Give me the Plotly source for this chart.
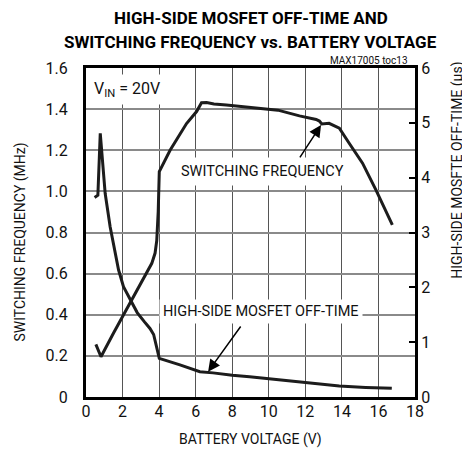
import plotly.graph_objects as go

# Switching frequency (MHz) vs battery voltage (V)
freq_v = [0.54, 0.82, 1.5, 2.0, 2.41, 3.0, 3.6, 3.78, 3.87, 3.95, 4.01, 4.6, 5.0, 5.5, 6.05,
          6.32, 6.6, 7.0, 7.68, 8.5, 9.5, 10.5, 11.68, 12.59, 12.77, 12.9, 13.3, 13.86,
          14.4, 15.13, 15.86, 16.76]
freq_mhz = [0.256, 0.196, 0.31, 0.39, 0.46, 0.555, 0.65, 0.70, 0.76, 0.9, 1.096, 1.20, 1.26,
            1.33, 1.388, 1.431, 1.432, 1.425, 1.42, 1.412, 1.404, 1.395, 1.367, 1.35, 1.342,
            1.328, 1.331, 1.307, 1.234, 1.137, 1.007, 0.837]

# High-side MOSFET off-time (us) vs battery voltage (V)
off_v = [0.47, 0.65, 0.78, 0.9, 1.05, 1.32, 1.69, 1.78, 2.05, 2.41, 2.8, 3.2, 3.5, 3.7, 3.82,
         3.9, 4.01, 5.14, 6.23, 6.95, 8.0, 8.95, 9.5, 10.77, 12.59, 13.86, 15.3, 16.73]
off_us = [3.64, 3.68, 4.81, 4.32, 3.71, 3.105, 2.50, 2.32, 2.01, 1.77, 1.54, 1.37, 1.25, 1.14,
          0.975, 0.825, 0.705, 0.585, 0.46, 0.44, 0.395, 0.37, 0.35, 0.31, 0.25, 0.2, 0.175, 0.16]

x_ticks = [0, 2, 4, 6, 8, 10, 12, 14, 16, 18]
y_ticks = [0, 0.2, 0.4, 0.6, 0.8, 1.0, 1.2, 1.4, 1.6]
y_tick_text = ["0", "0.2", "0.4", "0.6", "0.8", "1.0", "1.2", "1.4", "1.6"]
y2_ticks = [0, 1, 2, 3, 4, 5, 6]

title_lines = ["HIGH-SIDE MOSFET OFF-TIME AND", "SWITCHING FREQUENCY vs. BATTERY VOLTAGE"]

FONT = "Roboto, Liberation Sans, sans-serif"
LINE = "#1c1c1c"

fig = go.Figure()
fig.add_trace(go.Scatter(x=freq_v, y=freq_mhz, mode="lines", yaxis="y",
                         line=dict(color=LINE, width=3), showlegend=False))
fig.add_trace(go.Scatter(x=off_v, y=off_us, mode="lines", yaxis="y2",
                         line=dict(color=LINE, width=3), showlegend=False))

fig.update_layout(
    width=470, height=459,
    margin=dict(l=78, r=63, t=60, b=70),
    paper_bgcolor="white", plot_bgcolor="white",
    font=dict(family=FONT, size=16, color="#111"),
    xaxis=dict(range=[0, 18], tickvals=x_ticks, showgrid=True, gridcolor="#555", gridwidth=1,
               showline=True, linecolor="black", linewidth=3, mirror=True, zeroline=False,
               ticks="", ticklabelstandoff=-2, tickfont=dict(size=16)),
    yaxis=dict(range=[0, 1.6], tickvals=y_ticks, ticktext=y_tick_text, showgrid=True,
               gridcolor="#8a8a8a", gridwidth=1.5, showline=True, linecolor="black",
               linewidth=3, mirror=True, zeroline=False, ticks="", ticklabelstandoff=12,
               tickfont=dict(size=16)),
    yaxis2=dict(range=[0, 6], tickvals=y2_ticks, overlaying="y", side="right", showgrid=False,
                showline=True, linecolor="black", linewidth=3, zeroline=False,
                ticks="inside", ticklen=6, tickwidth=1.5, tickcolor="black",
                tickfont=dict(size=16)),
)

annotations = [
    dict(text="<b>%s</b>" % title_lines[0], xref="paper", yref="paper", x=0.5, y=1.152,
         xanchor="center", yanchor="middle", showarrow=False,
         font=dict(size=17, color="#000")),
    dict(text="<b>%s</b>" % title_lines[1], xref="paper", yref="paper", x=0.5, y=1.079,
         xanchor="center", yanchor="middle", showarrow=False,
         font=dict(size=17, color="#000")),
    dict(text="BATTERY VOLTAGE (V)", xref="paper", yref="paper", x=0.5, y=-0.128,
         xanchor="center", yanchor="middle", showarrow=False, font=dict(size=14)),
    dict(text="SWITCHING FREQUENCY (MHz)", xref="paper", yref="paper", x=-0.2, y=0.47,
         xanchor="center", yanchor="middle", textangle=-90, showarrow=False, font=dict(size=14)),
    dict(text="HIGH-SIDE MOSFTE OFF-TIME (µs)", xref="paper", yref="paper", x=1.13, y=0.69,
         xanchor="center", yanchor="middle", textangle=-90, showarrow=False, font=dict(size=14)),
    dict(text="MAX17005 toc13", xref="paper", yref="paper", x=0.985, y=1.024,
         xanchor="right", yanchor="middle", showarrow=False, font=dict(size=10)),
    dict(text="V<sub>IN</sub> = 20V", xref="paper", yref="paper", x=0.01, y=0.935,
         xanchor="left", yanchor="middle", showarrow=False, bgcolor="white", borderpad=4,
         font=dict(size=16)),
    dict(text="SWITCHING FREQUENCY", x=9.63, y=1.097, xref="x", yref="y",
         xanchor="center", yanchor="middle", showarrow=False, bgcolor="white", borderpad=5,
         font=dict(size=14.5)),
    dict(text="HIGH-SIDE MOSFET OFF-TIME", x=9.6, y=0.415, xref="x", yref="y",
         xanchor="center", yanchor="middle", showarrow=False, bgcolor="white", borderpad=3,
         font=dict(size=14.5)),
    dict(text="", x=12.86, y=1.323, ax=11.65, ay=1.158, xref="x", yref="y", axref="x", ayref="y",
         showarrow=True, arrowhead=2, arrowsize=1.6, arrowwidth=1.5, arrowcolor="black",
         standoff=0),
    dict(text="", x=6.68, y=0.123, ax=8.52, ay=0.35, xref="x", yref="y", axref="x", ayref="y",
         showarrow=True, arrowhead=2, arrowsize=1.6, arrowwidth=1.5, arrowcolor="black",
         standoff=0),
]
fig.update_layout(annotations=annotations)

fig.write_html("out.html")
